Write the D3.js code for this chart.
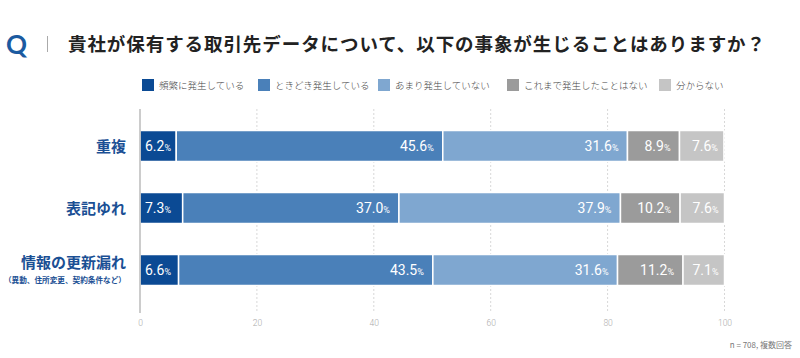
<!DOCTYPE html>
<html><head><meta charset="utf-8">
<script src="https://cdn.jsdelivr.net/npm/d3@7"></script>
<style>
html,body{margin:0;padding:0;background:#fff;}
svg{display:block;font-family:"Noto Sans CJK JP","Noto Sans",sans-serif;}
</style></head>
<body>
<svg id="c" width="800" height="358"></svg>
<script>
const categories = ["重複", "表記ゆれ", "情報の更新漏れ"];
const subLabels = ["", "", "（異動、住所変更、契約条件など）"];
const seriesNames = ["頻繁に発生している", "ときどき発生している", "あまり発生していない", "これまで発生したことはない", "分からない"];
const frequent = [6.2, 7.3, 6.6];
const sometimes = [45.6, 37.0, 43.5];
const rarely = [31.6, 37.9, 31.6];
const never = [8.9, 10.2, 11.2];
const unknown = [7.6, 7.6, 7.1];
const ticks = [0, 20, 40, 60, 80, 100];
const colors = ["#0b4a94", "#4a80b9", "#7fa7d0", "#9b9b9b", "#c5c5c5"];
const legendX = [142, 258, 378, 507, 659];
const title = "貴社が保有する取引先データについて、以下の事象が生じることはありますか？";
const note = "n = 708, 複数回答";

const series = [frequent, sometimes, rarely, never, unknown];
const svg = d3.select("#c");

// title
svg.append("text").attr("x", 6).attr("y", 54).attr("font-size", 26).attr("font-weight", 700)
  .attr("fill", "#1b5aa0").attr("font-family", "Lato, 'Noto Sans', sans-serif").text("Q");
svg.append("line").attr("x1", 47.5).attr("x2", 47.5).attr("y1", 36).attr("y2", 52)
  .attr("stroke", "#aaa").attr("stroke-width", 1);
svg.append("text").attr("x", 68).attr("y", 51).attr("font-size", 18.5).attr("font-weight", 700)
  .attr("fill", "#222").attr("textLength", 697).attr("lengthAdjust", "spacing").text(title);

// legend
const lg = svg.append("g");
seriesNames.forEach((n, i) => {
  lg.append("rect").attr("x", legendX[i]).attr("y", 79).attr("width", 12).attr("height", 12).attr("fill", colors[i]);
  lg.append("text").attr("x", legendX[i] + 17).attr("y", 89).attr("font-size", 9.5).attr("font-weight", 300).attr("fill", "#444").text(n);
});

const x = d3.scaleLinear().domain([0, 100]).range([140, 724.5]);
const y = d3.scaleBand().domain(categories).range([115, 301]).paddingInner(0.5).paddingOuter(0.25);

// grid
const grid = svg.append("g");
ticks.forEach(t => {
  if (t === 0) return;
  grid.append("line").attr("x1", x(t)).attr("x2", x(t)).attr("y1", 109).attr("y2", 313)
    .attr("stroke", "#d8d8d8").attr("stroke-width", 1).attr("stroke-dasharray", "2,2");
});

// axis labels
const axis = d3.axisBottom(x).tickValues(ticks).tickSize(0).tickPadding(0);
const ag = svg.append("g").attr("transform", "translate(0,320)").call(axis);
ag.select(".domain").remove();
ag.selectAll("text").attr("font-size", 8.5).attr("fill", "#aaa").attr("font-family", "Roboto, sans-serif").attr("font-weight", 300).attr("dy", "0.71em");

// bars
const rows = categories.map((c, ci) => {
  let acc = 0;
  return series.map((s, si) => {
    const v = s[ci];
    const seg = { cat: c, si, v, x0: acc, x1: acc + v };
    acc += v;
    return seg;
  });
});
const bars = svg.append("g");
rows.forEach(segs => {
  segs.forEach(d => {
    bars.append("rect").attr("x", x(d.x0)).attr("y", y(d.cat)).attr("width", x(d.x1) - x(d.x0))
      .attr("height", y.bandwidth()).attr("fill", colors[d.si]).attr("stroke", "#fff").attr("stroke-width", 1.5);
    const cy = y(d.cat) + y.bandwidth() / 2 + 5;
    let tx, anchor;
    if (d.si === 0) { tx = x(d.x0) + 5; anchor = "start"; }
    else if (d.si === 4) { tx = x(d.x1) - 6; anchor = "end"; }
    else { tx = x(d.x1) - 9; anchor = "end"; }
    const t = bars.append("text").attr("x", tx).attr("y", cy).attr("text-anchor", anchor)
      .attr("fill", "#fff").attr("font-family", "Roboto, 'Noto Sans', sans-serif").attr("font-weight", 400);
    t.append("tspan").attr("font-size", 14).text(d.v.toFixed(1));
    t.append("tspan").attr("font-size", 9).text("%");
  });
});

// axis line at 0
svg.append("line").attr("x1", x(0)).attr("x2", x(0)).attr("y1", 109).attr("y2", 313)
  .attr("stroke", "#bbb").attr("stroke-width", 1.5);

// category labels
categories.forEach((c, i) => {
  const cy = y(c) + y.bandwidth() / 2;
  const hasSub = subLabels[i] !== "";
  svg.append("text").attr("x", 126).attr("y", hasSub ? cy - 2 : cy + 5.5).attr("text-anchor", "end")
    .attr("font-size", 15).attr("font-weight", 700).attr("fill", "#1a4f94").text(c);
  if (hasSub) {
    svg.append("text").attr("x", 126).attr("y", cy + 13).attr("text-anchor", "end")
      .attr("font-size", 7.6).attr("font-weight", 700).attr("fill", "#1a4f94")
      .attr("textLength", 122).attr("lengthAdjust", "spacingAndGlyphs").text(subLabels[i]);
  }
});

// note
svg.append("text").attr("x", 792).attr("y", 348).attr("text-anchor", "end").attr("font-size", 8)
  .attr("fill", "#777").text(note);
</script>
</body></html>
